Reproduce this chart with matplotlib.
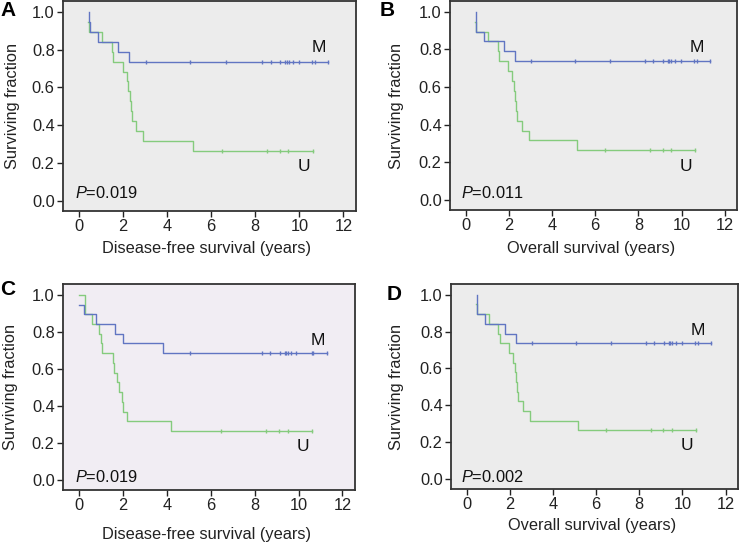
import matplotlib
matplotlib.use('Agg')
from matplotlib import pyplot as plt

plt.rcParams['font.family'] = ['Liberation Sans', 'DejaVu Sans']
plt.rcParams['mathtext.fontset'] = 'custom'
plt.rcParams['mathtext.it'] = 'Liberation Sans:italic'
plt.rcParams['mathtext.rm'] = 'Liberation Sans'

# ---- data ----
# step curves (where='post'): times and surviving fraction
m_t_ab = [0.47, 0.47, 0.50, 0.85, 1.76, 2.29, 11.30]
m_s_ab = [1.000, 0.947, 0.895, 0.842, 0.789, 0.737, 0.737]
m_cens_ab = [3.05, 5.05, 6.68, 8.30, 8.70, 9.14, 9.36, 9.44, 9.51,
             9.71, 9.97, 10.58, 10.70, 11.30]

u_t_ab = [0.42, 0.47, 1.03, 1.48, 1.56, 1.98, 2.17, 2.24, 2.30,
          2.35, 2.40, 2.60, 2.92, 5.17, 10.62]
u_s_ab = [0.947, 0.895, 0.842, 0.789, 0.737, 0.684, 0.632, 0.579, 0.526,
          0.474, 0.421, 0.368, 0.316, 0.263, 0.263]
u_cens_ab = [6.47, 8.52, 9.12, 9.50, 10.62]

m_t_c = [0.00, 0.23, 0.80, 1.64, 2.01, 3.83, 11.30]
m_s_c = [0.947, 0.895, 0.842, 0.789, 0.737, 0.684, 0.684]
m_cens_c = [5.05, 8.35, 8.70, 9.15, 9.38, 9.45, 9.52, 9.68, 9.90,
            10.60, 10.68, 11.30]

u_t_c = [0.00, 0.27, 0.62, 0.92, 1.00, 1.04, 1.55, 1.62, 1.75,
         1.85, 1.95, 2.02, 2.20, 4.18, 10.62]
u_s_c = [1.000, 0.895, 0.842, 0.789, 0.737, 0.684, 0.632, 0.579, 0.526,
         0.474, 0.421, 0.368, 0.316, 0.263, 0.263]
u_cens_c = [6.47, 8.52, 9.12, 9.50, 10.62]

letters = ['A', 'B', 'C', 'D']
xlabels = ['Disease-free survival (years)', 'Overall survival (years)',
           'Disease-free survival (years)', 'Overall survival (years)']
pvals = ['0.019', '0.011', '0.019', '0.002']

curves = [
    (m_t_ab, m_s_ab, m_cens_ab, u_t_ab, u_s_ab, u_cens_ab),
    (m_t_ab, m_s_ab, m_cens_ab, u_t_ab, u_s_ab, u_cens_ab),
    (m_t_c, m_s_c, m_cens_c, u_t_c, u_s_c, u_cens_c),
    (m_t_ab, m_s_ab, m_cens_ab, u_t_ab, u_s_ab, u_cens_ab),
]

# ---- layout (figure fractions) ----
rects = [
    [0.0849, 0.6114, 0.3949, 0.3867],
    [0.6065, 0.6133, 0.3868, 0.3850],
    [0.0849, 0.0976, 0.3935, 0.3794],
    [0.6078, 0.0994, 0.3868, 0.3775],
]
bgs = ['#ececec', '#ececec', '#f1edf3', '#ececec']
letter_pos = [(0.011, 0.981), (0.522, 0.980), (0.011, 0.466), (0.531, 0.457)]
m_lab = [(10.9, 0.81), (10.7, 0.81), (10.9, 0.75), (10.7, 0.805)]
u_lab = [(10.2, 0.18), (10.2, 0.176), (10.2, 0.18), (10.2, 0.18)]
p_pos = [(0.04, 0.087), (0.038, 0.083), (0.04, 0.063), (0.035, 0.057)]
xlab_y = [-0.145, -0.15, -0.18, -0.14]
ylab_x = [-0.146, -0.16, -0.154, -0.164]

blue = '#6175c2'
green = '#85cb7d'
fs = 11.8

fig = plt.figure(figsize=(7.42, 5.43), dpi=100)

for i in range(4):
    ax = fig.add_axes(rects[i])
    ax.set_facecolor(bgs[i])
    mt, ms, mc, ut, us, uc = curves[i]

    ax.step(ut, us, where='post', color=green, lw=1.0)
    ax.plot(uc, [us[-1]] * len(uc), ls='none', marker='|', ms=3.5,
            mew=1.0, color=green)
    ax.step(mt, ms, where='post', color=blue, lw=1.0)
    ax.plot(mc, [ms[-1]] * len(mc), ls='none', marker='|', ms=3.5,
            mew=1.0, color=blue)

    ax.set_xlim(-0.72, 12.57)
    ax.set_ylim(-0.055, 1.058)
    ax.set_xticks([0, 2, 4, 6, 8, 10, 12])
    ax.set_yticks([0.0, 0.2, 0.4, 0.6, 0.8, 1.0])
    ax.set_yticklabels(['0.0', '0.2', '0.4', '0.6', '0.8', '1.0'])
    ax.tick_params(labelsize=fs, length=4, width=1.0, pad=2,
                   colors='#222222')
    for sp in ax.spines.values():
        sp.set_color('#333333')
        sp.set_linewidth(1.3)

    ax.set_xlabel(xlabels[i], fontsize=fs, color='#222222')
    ax.xaxis.set_label_coords(0.49, xlab_y[i])
    ax.set_ylabel('Surviving fraction', fontsize=fs, color='#222222')
    ax.yaxis.set_label_coords(ylab_x[i], 0.5)

    ax.text(m_lab[i][0], m_lab[i][1], 'M', fontsize=12.5, ha='center',
            va='center', color='#111111')
    ax.text(u_lab[i][0], u_lab[i][1], 'U', fontsize=12.5, ha='center',
            va='center', color='#111111')
    ax.text(p_pos[i][0], p_pos[i][1], r'$\mathit{P}$=' + pvals[i],
            transform=ax.transAxes, fontsize=fs, ha='left', va='center',
            color='#111111')

    fig.text(letter_pos[i][0], letter_pos[i][1], letters[i], fontsize=15,
             fontweight='bold', ha='center', va='center')

fig.savefig('out.png', dpi=100)
